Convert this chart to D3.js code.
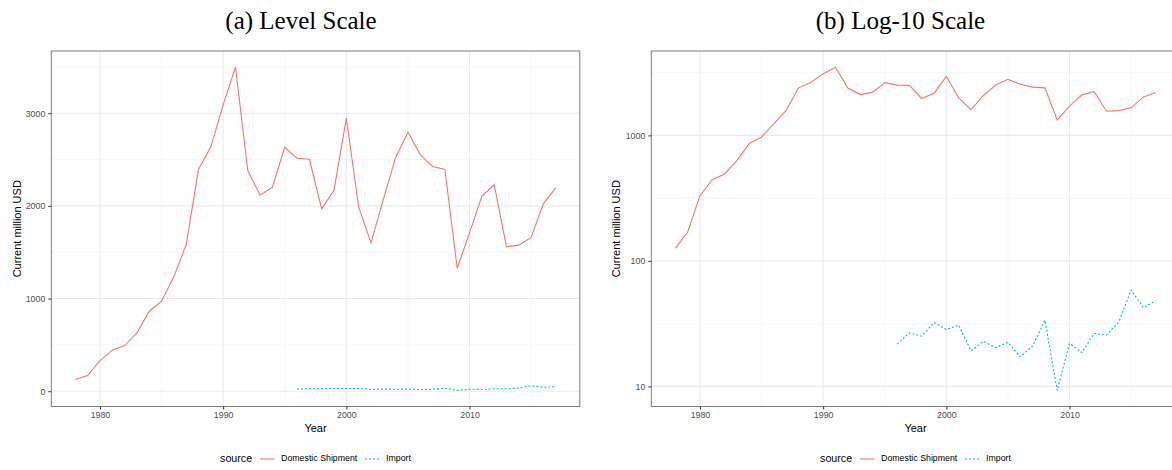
<!DOCTYPE html>
<html>
<head>
<meta charset="utf-8">
<script src="https://cdn.jsdelivr.net/npm/d3@7"></script>
<style>
  html, body { margin: 0; padding: 0; background: #fff; }
  svg { display: block; }
  .tick text { font-family: "Liberation Sans", Arial, sans-serif; }
</style>
</head>
<body>
<svg id="chart" width="1172" height="470"></svg>
<script>
// Annual values, current million USD
const years = d3.range(1978, 2018);
const domestic = [
  126, 169, 331, 443, 493, 630, 863, 971, 1234, 1583,
  2392, 2637, 3090, 3497, 2382, 2115, 2201, 2633, 2514, 2503,
  1968, 2169, 2946, 1990, 1601, 2070, 2520, 2795, 2554, 2425,
  2392, 1327, 1709, 2104, 2230, 1558, 1576, 1659, 2025, 2195
];
const importYears = d3.range(1996, 2018);
const imports = [
  21.7, 26.7, 25.1, 32.3, 28.4, 30.8, 19.2, 22.8, 20.4, 22.4,
  17.2, 20.9, 33.7, 9.3, 22.0, 18.6, 26.4, 25.6, 32.7, 58.6,
  42.3, 48.1
];

const seriesNames = ["Domestic Shipment", "Import"];
const seriesColors = ["#F8766D", "#00BFC4"];
const seriesDash = [null, "2,2"];

const xMajor = [1980, 1990, 2000, 2010];
const xMinor = [1985, 1995, 2005, 2015];
const levelMajor = [0, 1000, 2000, 3000];
const levelMinor = [500, 1500, 2500, 3500];
const logMajor = [10, 100, 1000];
const logMinor = [Math.pow(10, 1.5), Math.pow(10, 2.5), Math.pow(10, 3.5)];

const series = [
  years.map((y, i) => ({ year: y, value: domestic[i] })),
  importYears.map((y, i) => ({ year: y, value: imports[i] }))
];

const svg = d3.select("#chart");
const SANS = "'Liberation Sans', Arial, sans-serif";
const SERIF = "'Liberation Serif', 'Times New Roman', serif";

// ggplot-style 5% expansion of a continuous domain
function expand(lo, hi, f) {
  const d = (hi - lo) * 0.05;
  return f ? [lo - d, hi + d] : [lo - d, hi + d];
}

const allYears = years.concat(importYears);
const xDomain = expand(d3.min(allYears), d3.max(allYears));
const allValues = domestic.concat(imports);
const vMin = d3.min(allValues), vMax = d3.max(allValues);

function drawPanel(opt) {
  const { left, right, top, bottom, title, titleX, log } = opt;
  const g = svg.append("g");

  const x = d3.scaleLinear().domain(xDomain).range([left, right]);
  let y;
  if (log) {
    const ld = expand(Math.log10(vMin), Math.log10(vMax));
    y = d3.scaleLog().domain([Math.pow(10, ld[0]), Math.pow(10, ld[1])]).range([bottom, top]);
  } else {
    y = d3.scaleLinear().domain(expand(vMin, vMax)).range([bottom, top]);
  }
  const yMajor = log ? logMajor : levelMajor;
  const yMinor = log ? logMinor : levelMinor;

  // clip so the panel may run past the page edge
  const clipId = "clip" + (log ? "b" : "a");
  g.append("clipPath").attr("id", clipId)
    .append("rect").attr("x", left).attr("y", top)
    .attr("width", right - left).attr("height", bottom - top);

  const grid = g.append("g").attr("clip-path", `url(#${clipId})`);
  // minor grid
  grid.selectAll(".ymin").data(yMinor.filter(v => v > y.domain()[0] && v < y.domain()[1]))
    .join("line")
    .attr("x1", left).attr("x2", right)
    .attr("y1", d => y(d)).attr("y2", d => y(d))
    .attr("stroke", "#F2F2F2").attr("stroke-width", 0.6);
  grid.selectAll(".xmin").data(xMinor.filter(v => v > xDomain[0] && v < xDomain[1]))
    .join("line")
    .attr("y1", top).attr("y2", bottom)
    .attr("x1", d => x(d)).attr("x2", d => x(d))
    .attr("stroke", "#F2F2F2").attr("stroke-width", 0.6);
  // major grid
  grid.selectAll(".ymaj").data(yMajor)
    .join("line")
    .attr("x1", left).attr("x2", right)
    .attr("y1", d => y(d)).attr("y2", d => y(d))
    .attr("stroke", "#EBEBEB").attr("stroke-width", 1.1);
  grid.selectAll(".xmaj").data(xMajor)
    .join("line")
    .attr("y1", top).attr("y2", bottom)
    .attr("x1", d => x(d)).attr("x2", d => x(d))
    .attr("stroke", "#EBEBEB").attr("stroke-width", 1.1);

  // series lines
  const line = d3.line().x(d => x(d.year)).y(d => y(d.value));
  const lines = g.append("g").attr("clip-path", `url(#${clipId})`);
  series.forEach((s, i) => {
    lines.append("path")
      .datum(s)
      .attr("d", line)
      .attr("fill", "none")
      .attr("stroke", seriesColors[i])
      .attr("stroke-width", 1.1)
      .attr("stroke-dasharray", seriesDash[i]);
  });

  // panel border
  g.append("rect")
    .attr("x", left).attr("y", top)
    .attr("width", right - left).attr("height", bottom - top)
    .attr("fill", "none").attr("stroke", "#7F7F7F").attr("stroke-width", 1);

  // axes
  const yAxis = d3.axisLeft(y).tickValues(yMajor)
    .tickFormat(d3.format("d")).tickSize(3).tickPadding(3);
  const ya = g.append("g").attr("transform", `translate(${left},0)`).call(yAxis);
  const xAxis = d3.axisBottom(x).tickValues(xMajor)
    .tickFormat(d3.format("d")).tickSize(3).tickPadding(2.5);
  const xa = g.append("g").attr("transform", `translate(0,${bottom})`).call(xAxis);
  [ya, xa].forEach(a => {
    a.select(".domain").remove();
    a.selectAll(".tick line").attr("stroke", "#333333").attr("stroke-width", 1);
    a.selectAll(".tick text").attr("fill", "#4D4D4D")
      .style("font-size", "8.8px").style("font-family", SANS);
  });

  // axis titles
  g.append("text")
    .attr("x", (left + right) / 2).attr("y", 432)
    .attr("text-anchor", "middle")
    .style("font-family", SANS).style("font-size", "11px").attr("fill", "#000")
    .text("Year");
  g.append("text")
    .attr("transform", `translate(${opt.yTitleX},${(top + bottom) / 2}) rotate(-90)`)
    .attr("text-anchor", "middle").attr("dominant-baseline", "middle")
    .style("font-family", SANS).style("font-size", "11px").attr("fill", "#000")
    .text("Current million USD");

  // figure title
  g.append("text")
    .attr("x", titleX).attr("y", 28.5)
    .attr("text-anchor", "middle")
    .style("font-family", SERIF).style("font-size", "25px").attr("fill", "#000")
    .text(title);

  // legend
  const lg = g.append("g").attr("transform", `translate(${(left + right) / 2 - 95.5},459)`);
  lg.append("text").attr("x", 0).attr("y", 0).attr("dominant-baseline", "middle")
    .style("font-family", SANS).style("font-size", "10.7px").attr("fill", "#000")
    .text("source");
  const items = [
    { key: 0, lx: 40, tx: 61 },
    { key: 1, lx: 145, tx: 166 }
  ];
  items.forEach(it => {
    lg.append("line")
      .attr("x1", it.lx).attr("x2", it.lx + 14.5)
      .attr("y1", 0).attr("y2", 0)
      .attr("stroke", seriesColors[it.key]).attr("stroke-width", 1.1)
      .attr("stroke-dasharray", seriesDash[it.key]);
    lg.append("text").attr("x", it.tx).attr("y", 0).attr("dominant-baseline", "middle")
      .style("font-family", SANS).style("font-size", "8.8px").attr("fill", "#000")
      .text(seriesNames[it.key]);
  });
}

drawPanel({ left: 51.3, right: 579.8, top: 51, bottom: 406.5,
  title: "(a) Level Scale", titleX: 301, yTitleX: 18, log: false });
drawPanel({ left: 651.3, right: 1179.8, top: 51, bottom: 406.5,
  title: "(b) Log-10 Scale", titleX: 900.5, yTitleX: 617, log: true });
</script>
</body>
</html>
